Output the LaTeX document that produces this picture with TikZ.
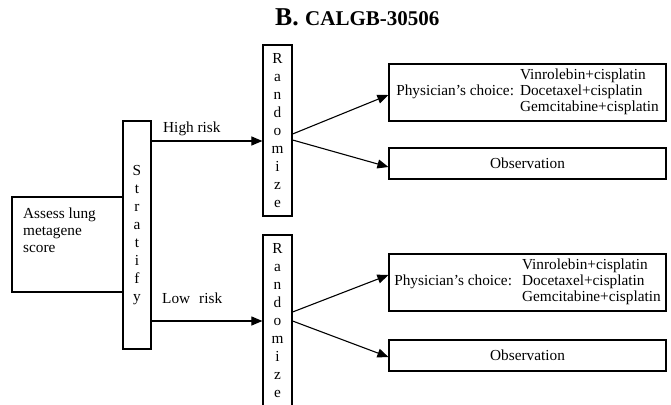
\documentclass[tikz,border=0pt]{standalone}
\usepackage{fontspec}
\setmainfont{Liberation Serif}
\usetikzlibrary{arrows.meta}
\begin{document}
\begin{tikzpicture}[x=1pt,y=-1pt,
  box/.style={draw, line width=1.2pt, inner sep=0pt},
  link/.style={line width=1.1pt, -{Triangle[length=11pt,width=9pt]}},
  txt/.style={font=\fontsize{15.3}{16}\selectfont},
  stack/.style={box, align=center, font=\fontsize{15.3}{17.9}\selectfont}]
\useasboundingbox (0,0) rectangle (671,404);

% heading
\node[anchor=base west, inner sep=0pt] (title) at (275,26)
  {\fontsize{25.7}{28}\selectfont\bfseries B. \fontsize{21}{23}\selectfont CALGB-30506};

% starting step
\node[box, minimum width=111pt, minimum height=95pt] (assess) at (67.5,244.5) {};
\node[anchor=north west, align=left, inner sep=0pt, font=\fontsize{15.3}{17}\selectfont]
  (assesstext) at (23,207.5) {Assess lung\\metagene\\score};

% vertical step boxes
\node[stack, minimum width=28pt, minimum height=228pt] (strat) at (137,235)
  {S\\t\\r\\a\\t\\i\\f\\y};
\node[stack, minimum width=29pt, minimum height=171pt] (rand1) at (277.5,130.5)
  {R\\a\\n\\d\\o\\m\\i\\z\\e};
\node[stack, minimum width=29pt, minimum height=171pt] (rand2) at (277.5,320.5)
  {R\\a\\n\\d\\o\\m\\i\\z\\e};

% treatment arms
\node[box, txt, minimum width=277pt, minimum height=57pt] (choice1) at (527.5,92.5)
  {\begin{tabular}{@{}l@{\hspace{6pt}}l@{}}
     & Vinrolebin+cisplatin\\
   Physician's choice: & Docetaxel+cisplatin\\
     & Gemcitabine+cisplatin
   \end{tabular}};
\node[box, txt, minimum width=277pt, minimum height=31pt] (obs1) at (527.5,163.5) {Observation};
\node[box, txt, minimum width=277pt, minimum height=57pt] (choice2) at (527.5,282.5)
  {\begin{tabular}{@{}l@{\hspace{10pt}}l@{}}
     & Vinrolebin+cisplatin\\
   Physician's choice: & Docetaxel+cisplatin\\
     & Gemcitabine+cisplatin
   \end{tabular}};
\node[box, txt, minimum width=277pt, minimum height=31pt] (obs2) at (527.5,355.5) {Observation};

% risk branches
\draw[link] (strat.east |- 0,141) -- (rand1.west |- 0,141);
\node[txt, anchor=base west, inner sep=0pt] (hilab) at (163,132) {High risk};
\draw[link] (strat.east |- 0,321) -- (rand2.west |- 0,321);
\node[txt, anchor=base west, inner sep=0pt] (lolab) at (162,303) {Low\hspace{9pt}risk};

% randomisation arms
\draw[link] (rand1.east |- 0,134) -- (choice1.west |- 0,95);
\draw[link] (rand1.east |- 0,140) -- (obs1.west |- 0,167);
\draw[link] (rand2.east |- 0,312) -- (choice2.west |- 0,275);
\draw[link] (rand2.east |- 0,321) -- (obs2.west |- 0,357);
\end{tikzpicture}
\end{document}
